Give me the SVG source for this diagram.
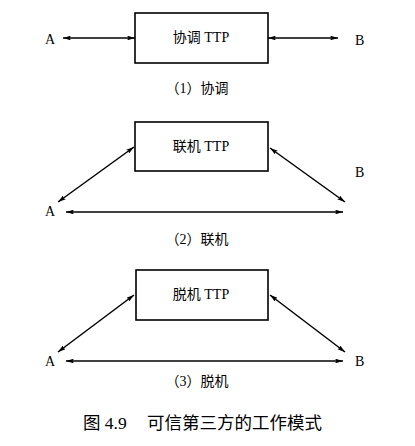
<svg xmlns="http://www.w3.org/2000/svg" width="415" height="446" viewBox="0 0 415 446">
<style>
.box{fill:#fff;stroke:#000;stroke-width:1.6}
.ln{stroke:#000;stroke-width:1.5;fill:none;marker-start:url(#ah);marker-end:url(#ah)}
.t{font-family:"Liberation Serif","Noto Sans CJK SC",serif;fill:#000}
.lbl{font-size:14px}
.bt{font-size:14px;text-anchor:middle}
.cap{font-size:14px;text-anchor:middle}
.fig{font-size:17.5px}
</style>
<defs>
<marker id="ah" viewBox="0 0 10 6" refX="10" refY="3" markerWidth="8" markerHeight="4.8" orient="auto-start-reverse" markerUnits="userSpaceOnUse">
<path d="M0,0 L10,3 L0,6 L2,3 Z" fill="#000"/>
</marker>
</defs>
<rect width="415" height="446" fill="#fff"/>
<g id="connectors">
<line class="ln" x1="63" y1="38" x2="135" y2="38"/>
<line class="ln" x1="268" y1="38" x2="338" y2="38"/>
<line class="ln" x1="58" y1="202" x2="134" y2="147"/>
<line class="ln" x1="270" y1="148" x2="345" y2="202"/>
<line class="ln" x1="66" y1="212" x2="343" y2="212"/>
<line class="ln" x1="58" y1="352" x2="134" y2="295"/>
<line class="ln" x1="270" y1="295" x2="345" y2="352"/>
<line class="ln" x1="66" y1="361" x2="343" y2="361"/>
</g>
<g id="ttp1"><rect class="box" x="135" y="13" width="133" height="50"/><text class="t bt" x="201" y="42">协调 TTP</text></g>
<g id="ttp2"><rect class="box" x="135" y="122" width="133" height="49"/><text class="t bt" x="201" y="151">联机 TTP</text></g>
<g id="ttp3"><rect class="box" x="136" y="270" width="132" height="50"/><text class="t bt" x="201" y="299">脱机 TTP</text></g>
<g id="A1"><text class="t lbl" x="45" y="44">A</text></g>
<g id="B1"><text class="t lbl" x="355" y="45">B</text></g>
<g id="A2"><text class="t lbl" x="45" y="216">A</text></g>
<g id="B2"><text class="t lbl" x="355" y="177">B</text></g>
<g id="A3"><text class="t lbl" x="45" y="366">A</text></g>
<g id="B3"><text class="t lbl" x="355" y="366">B</text></g>
<text class="t cap" x="197" y="93">（1）协调</text>
<text class="t cap" x="197" y="244">（2）联机</text>
<text class="t cap" x="197" y="386">（3）脱机</text>
<text class="t fig" x="83" y="429">图 4.9<tspan x="147">可信第三方的工作模式</tspan></text>
</svg>
